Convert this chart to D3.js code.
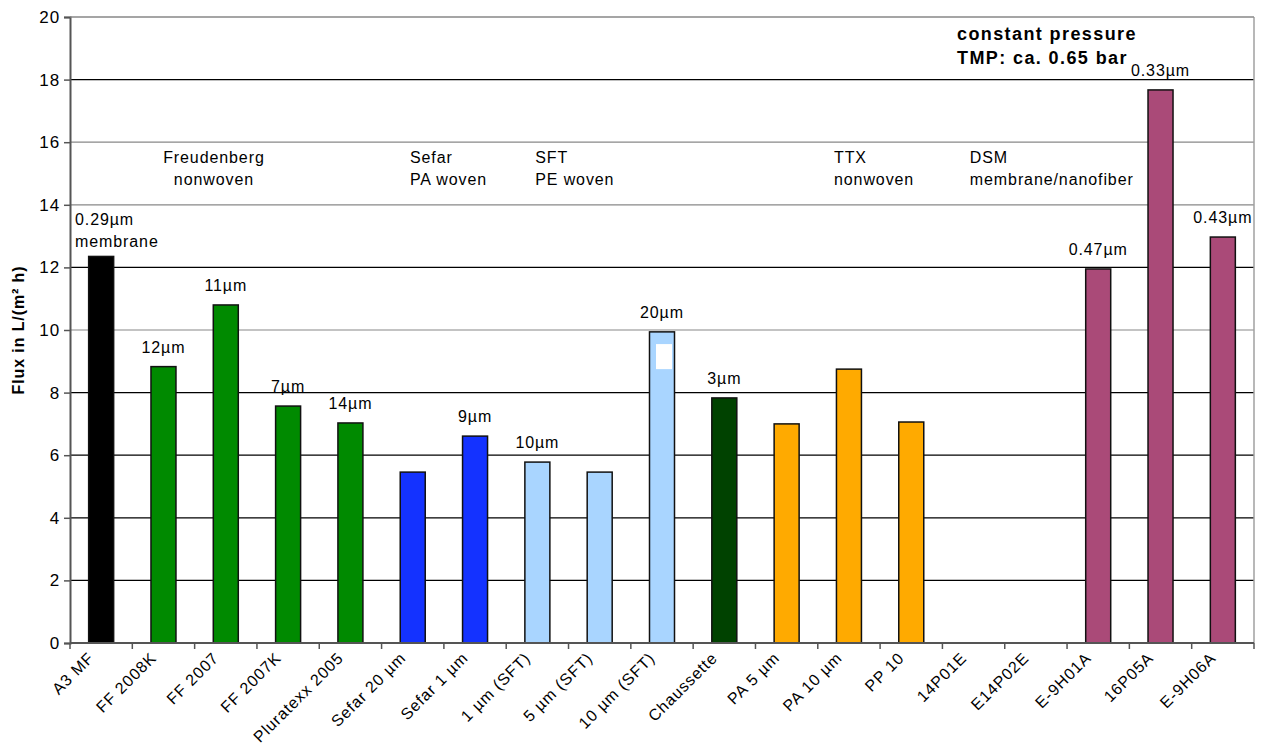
<!DOCTYPE html>
<html>
<head>
<meta charset="utf-8">
<script src="https://cdn.jsdelivr.net/npm/d3@7"></script>
<style>
  body { margin: 0; background: #fff; }
  text { font-family: "Liberation Sans", Arial, sans-serif; letter-spacing: 0.9px; }
</style>
</head>
<body>
<div id="chart"></div>
<script>
const categories = ["A3 MF", "FF 2008K", "FF 2007", "FF 2007K", "Pluratexx 2005", "Sefar 20 µm", "Sefar 1 µm",
  "1 µm (SFT)", "5 µm (SFT)", "10 µm (SFT)", "Chaussette", "PA 5 µm", "PA 10 µm", "PP 10",
  "14P01E", "E14P02E", "E-9H01A", "16P05A", "E-9H06A"];
const fluxValues = [12.35, 8.83, 10.8, 7.57, 7.03, 5.46, 6.61, 5.78, 5.46, 9.94, 7.83, 7.0, 8.75, 7.06,
  0, 0, 11.95, 17.67, 12.97];
const barColors = ["#000000", "#008a00", "#008a00", "#008a00", "#008a00", "#1432ff", "#1432ff",
  "#a9d5ff", "#a9d5ff", "#a9d5ff", "#004200", "#ffaa00", "#ffaa00", "#ffaa00",
  "#ffaa00", "#ffaa00", "#aa4a78", "#aa4a78", "#aa4a78"];
const poreLabels = ["", "12µm", "11µm", "7µm", "14µm", "", "9µm", "10µm", "", "20µm", "3µm", "", "", "",
  "", "", "0.47µm", "0.33µm", "0.43µm"];
const yTicks = [0, 2, 4, 6, 8, 10, 12, 14, 16, 18, 20];

const width = 1262, height = 749;
const margin = { top: 17, right: 8, bottom: 106, left: 70 };
const innerW = width - margin.left - margin.right;
const innerH = height - margin.top - margin.bottom;

const svg = d3.select("#chart").append("svg")
  .attr("width", width).attr("height", height);
const g = svg.append("g").attr("transform", `translate(${margin.left},${margin.top})`);

const x = d3.scaleBand().domain(categories).range([0, innerW]).paddingInner(0).paddingOuter(0);
const y = d3.scaleLinear().domain([0, 20]).range([innerH, 0]);

// gridlines (the picture shows some darker than others)
const darkGrid = new Set([2, 4, 6, 8, 12, 18]);
g.selectAll(".grid").data(yTicks.filter(d => d > 0)).enter().append("line")
  .attr("x1", 0).attr("x2", innerW)
  .attr("y1", d => y(d)).attr("y2", d => y(d))
  .attr("stroke", d => darkGrid.has(d) ? "#000" : "#888")
  .attr("stroke-width", 1.2);

// right border
g.append("line").attr("x1", innerW).attr("x2", innerW).attr("y1", 0).attr("y2", innerH)
  .attr("stroke", "#a0a0a0").attr("stroke-width", 1.5);

// bars
const barW = 25;
g.selectAll(".bar").data(categories).enter().append("rect")
  .attr("class", "bar")
  .attr("x", d => x(d) + x.bandwidth() / 2 - barW / 2)
  .attr("y", (d, i) => y(fluxValues[i]))
  .attr("width", barW)
  .attr("height", (d, i) => innerH - y(fluxValues[i]))
  .attr("fill", (d, i) => barColors[i])
  .attr("stroke", (d, i) => fluxValues[i] > 0 ? "#111" : "none")
  .attr("stroke-width", 1.5);

// white artifact on the 10 µm (SFT) bar
g.append("rect")
  .attr("x", x("10 µm (SFT)") + x.bandwidth() / 2 - 6)
  .attr("y", y(9.55))
  .attr("width", 16).attr("height", y(8.75) - y(9.55))
  .attr("fill", "#fff");

// axes
const yAxis = g.append("g")
  .call(d3.axisLeft(y).tickValues(yTicks).tickSize(6).tickPadding(4));
yAxis.select(".domain").attr("stroke", "#555").attr("stroke-width", 2);
yAxis.selectAll(".tick line").attr("stroke", "#555").attr("stroke-width", 1.5);
yAxis.selectAll("text").style("font-size", "17px").attr("fill", "#000").style("font-family", "Liberation Sans, Arial, sans-serif");

const xAxisG = g.append("g").attr("transform", `translate(0,${innerH})`);
xAxisG.append("line").attr("x1", 0).attr("x2", innerW).attr("stroke", "#555").attr("stroke-width", 2);
xAxisG.selectAll(".xt").data(d3.range(categories.length + 1)).enter().append("line")
  .attr("x1", i => i * x.step()).attr("x2", i => i * x.step())
  .attr("y1", 0).attr("y2", 6).attr("stroke", "#555").attr("stroke-width", 1.5);
xAxisG.selectAll(".xl").data(categories).enter().append("text")
  .attr("transform", d => `translate(${x(d) + x.bandwidth() / 2 - 6},${16}) rotate(-45)`)
  .attr("text-anchor", "end")
  .style("font-size", "16px")
  .text(d => d);

// top border
g.append("line").attr("x1", 0).attr("x2", innerW).attr("y1", 0).attr("y2", 0)
  .attr("stroke", "#888").attr("stroke-width", 1.2);

// y title
svg.append("text")
  .attr("transform", `translate(24,${margin.top + innerH / 2}) rotate(-90)`)
  .attr("text-anchor", "middle")
  .style("font-size", "16px").style("font-weight", "bold")
  .text("Flux in L/(m² h)");

// pore size labels above bars
g.selectAll(".pl").data(categories).enter().append("text")
  .attr("x", d => x(d) + x.bandwidth() / 2)
  .attr("y", (d, i) => y(fluxValues[i]) - 14)
  .attr("text-anchor", "middle")
  .style("font-size", "16px")
  .text((d, i) => poreLabels[i]);

// first bar label (two lines, left aligned)
const a3 = g.append("text").attr("x", 5).attr("y", y(12.35) - 31).style("font-size", "16px");
a3.append("tspan").attr("x", 5).text("0.29µm");
a3.append("tspan").attr("x", 5).attr("dy", 22).text("membrane");

// group labels
const groups = [
  { at: "FF 2008K", dx: 1.31, anchor: "middle", l1: "Freudenberg", l2: "nonwoven" },
  { at: "Sefar 20 µm", dx: 0.455, anchor: "start", l1: "Sefar", l2: "PA woven" },
  { at: "1 µm (SFT)", dx: 0.465, anchor: "start", l1: "SFT", l2: "PE woven" },
  { at: "PA 10 µm", dx: 0.26, anchor: "start", l1: "TTX", l2: "nonwoven" },
  { at: "14P01E", dx: 0.44, anchor: "start", l1: "DSM", l2: "membrane/nanofiber" }
];
groups.forEach(gr => {
  const gx = x(gr.at) + x.step() * gr.dx;
  const t = g.append("text").attr("text-anchor", gr.anchor).style("font-size", "16px");
  t.append("tspan").attr("x", gx).attr("y", y(15.5) + 5).text(gr.l1);
  t.append("tspan").attr("x", gx).attr("dy", 22).text(gr.l2);
});

// annotation
const ann = g.append("text").style("font-size", "18px").style("font-weight", "bold").style("letter-spacing", "1.4px");
ann.append("tspan").attr("x", 887).attr("y", 23).text("constant pressure");
ann.append("tspan").attr("x", 887).attr("dy", 24).text("TMP: ca. 0.65 bar");
</script>
</body>
</html>
